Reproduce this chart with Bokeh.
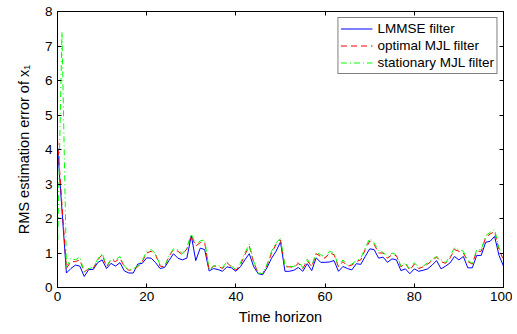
from bokeh.plotting import figure
from bokeh.models import LinearAxis, Range1d, FixedTicker, Legend, LegendItem
from bokeh.embed import file_html
from bokeh.resources import INLINE

t = list(range(101))

lmmse = [4.1, 2.25, 0.42, 0.55, 0.65, 0.62, 0.32, 0.52, 0.52, 0.72,
         0.8, 0.55, 0.7, 0.62, 0.72, 0.48, 0.42, 0.42, 0.68, 0.7,
         0.86, 0.85, 0.72, 0.55, 0.58, 0.78, 0.98, 0.85, 0.8, 0.85,
         1.5, 0.78, 1.14, 1.1, 0.48, 0.55, 0.52, 0.47, 0.6, 0.57,
         0.47, 0.6, 0.8, 0.98, 0.6, 0.4, 0.37, 0.58, 0.85, 1.05,
         1.32, 0.47, 0.47, 0.5, 0.58, 0.47, 0.69, 0.49, 0.86, 0.73,
         0.73, 0.74, 0.78, 0.47, 0.61, 0.55, 0.51, 0.69, 0.67, 0.9,
         1.12, 1.1, 0.85, 0.88, 0.73, 0.83, 0.8, 0.49, 0.54, 0.4,
         0.54, 0.47, 0.5, 0.54, 0.65, 0.78, 0.54, 0.62, 0.71, 0.9,
         0.8, 0.9, 0.57, 0.57, 0.93, 0.93, 1.31, 1.34, 1.48, 0.93,
         0.62]

optimal = [4.3, 2.4, 0.55, 0.75, 0.75, 0.8, 0.45, 0.55, 0.55, 0.8,
           0.95, 0.6, 0.8, 0.75, 0.85, 0.6, 0.5, 0.52, 0.6, 0.75,
           1.0, 1.05, 0.95, 0.62, 0.6, 0.9, 1.1, 1.05, 0.95, 1.12,
           1.5, 1.2, 1.3, 1.3, 0.5, 0.62, 0.62, 0.55, 0.72, 0.6,
           0.5, 0.65, 0.95, 1.2, 0.72, 0.42, 0.4, 0.65, 1.0, 1.25,
           1.38, 0.6, 0.6, 0.58, 0.7, 0.55, 0.78, 0.6, 0.98, 0.9,
           0.85, 1.0, 0.95, 0.6, 0.75, 0.62, 0.65, 0.75, 0.8, 1.1,
           1.35, 1.25, 1.0, 1.0, 0.85, 0.95, 0.92, 0.6, 0.7, 0.5,
           0.68, 0.55, 0.6, 0.68, 0.78, 0.88, 0.75, 0.7, 0.85, 1.1,
           1.05, 1.0, 0.75, 0.68, 1.05, 1.05, 1.45, 1.55, 1.62, 1.1,
           0.8]

stationary = [1.0, 7.4, 0.6, 0.85, 0.8, 0.88, 0.45, 0.55, 0.58, 0.82,
              1.0, 0.62, 0.82, 0.8, 0.9, 0.62, 0.5, 0.55, 0.62, 0.78,
              1.05, 1.1, 0.98, 0.65, 0.6, 0.92, 1.12, 1.1, 0.98, 1.15,
              1.55, 1.25, 1.35, 1.38, 0.52, 0.62, 0.65, 0.58, 0.75, 0.62,
              0.52, 0.7, 1.0, 1.25, 0.75, 0.42, 0.4, 0.68, 1.05, 1.3,
              1.42, 0.62, 0.62, 0.6, 0.75, 0.58, 0.82, 0.62, 1.02, 0.95,
              0.88, 1.05, 1.0, 0.62, 0.8, 0.65, 0.68, 0.78, 0.85, 1.15,
              1.42, 1.3, 1.05, 1.02, 0.88, 1.0, 0.95, 0.62, 0.72, 0.52,
              0.72, 0.58, 0.62, 0.72, 0.82, 0.9, 0.8, 0.72, 0.9, 1.15,
              1.1, 1.05, 0.78, 0.7, 1.1, 1.1, 1.5, 1.6, 1.68, 1.15,
              0.85]

x_ticks = [0, 20, 40, 60, 80, 100]
y_ticks = [0, 1, 2, 3, 4, 5, 6, 7, 8]

FONT = "Liberation Sans"

p = figure(width=512, height=330, output_backend="svg", toolbar_location=None,
           x_range=Range1d(0, 100), y_range=Range1d(0, 8),
           min_border_left=57, min_border_right=9, min_border_top=11, min_border_bottom=43)
p.background_fill_color = "white"
p.border_fill_color = "white"
p.xgrid.visible = False
p.ygrid.visible = False
p.outline_line_color = "black"
p.outline_line_width = 1

r1 = p.line(t, lmmse, line_color="#0000ff", line_width=1)
r2 = p.line(t, optimal, line_color="#ff0000", line_width=1, line_dash="6 4")
r3 = p.line(t, stationary, line_color="#00ff00", line_width=1, line_dash="6 3 1 3")

for ax in (p.xaxis[0], p.yaxis[0]):
    ax.major_tick_in = 4
    ax.major_tick_out = 0
    ax.minor_tick_in = 0
    ax.minor_tick_out = 0
    ax.axis_line_color = "black"
    ax.major_tick_line_color = "black"
    ax.major_label_text_font = FONT
    ax.major_label_text_font_size = "13.5px"
    ax.major_label_text_color = "black"
    ax.axis_label_text_font = FONT
    ax.axis_label_text_font_size = "14.5px"
    ax.axis_label_text_font_style = "normal"
    ax.axis_label_text_color = "black"

p.xaxis[0].ticker = FixedTicker(ticks=x_ticks)
p.yaxis[0].ticker = FixedTicker(ticks=y_ticks)
p.xaxis[0].axis_label = "Time horizon"
p.yaxis[0].axis_label = "RMS estimation error of x\u2081"
p.xaxis[0].major_label_standoff = 4
p.yaxis[0].major_label_standoff = 5
p.xaxis[0].axis_label_standoff = 5
p.yaxis[0].axis_label_standoff = 10

blank_x = {v: "" for v in x_ticks}
blank_y = {v: "" for v in y_ticks}
top_ax = LinearAxis(ticker=FixedTicker(ticks=x_ticks), major_tick_in=4, major_tick_out=0,
                    minor_tick_in=0, minor_tick_out=0, major_label_overrides=blank_x,
                    major_label_text_font_size="1px",
                    major_label_standoff=0, axis_line_color="black")
right_ax = LinearAxis(ticker=FixedTicker(ticks=y_ticks), major_tick_in=4, major_tick_out=0,
                      minor_tick_in=0, minor_tick_out=0, major_label_overrides=blank_y,
                      major_label_text_font_size="1px",
                      major_label_standoff=0, axis_line_color="black")
p.add_layout(top_ax, "above")
p.add_layout(right_ax, "right")

legend = Legend(items=[
    LegendItem(label="LMMSE filter", renderers=[r1]),
    LegendItem(label="optimal MJL filter", renderers=[r2]),
    LegendItem(label="stationary MJL filter", renderers=[r3]),
], location="top_right")
legend.label_text_font = FONT
legend.label_text_font_size = "13.5px"
legend.label_text_color = "black"
legend.border_line_color = "black"
legend.border_line_width = 1
legend.background_fill_alpha = 1.0
legend.glyph_width = 32
legend.glyph_height = 17
legend.label_height = 17
legend.label_standoff = 5
legend.spacing = 0
legend.padding = 2
legend.margin = 6
p.add_layout(legend)

open("out.html", "w").write(file_html(p, INLINE))
